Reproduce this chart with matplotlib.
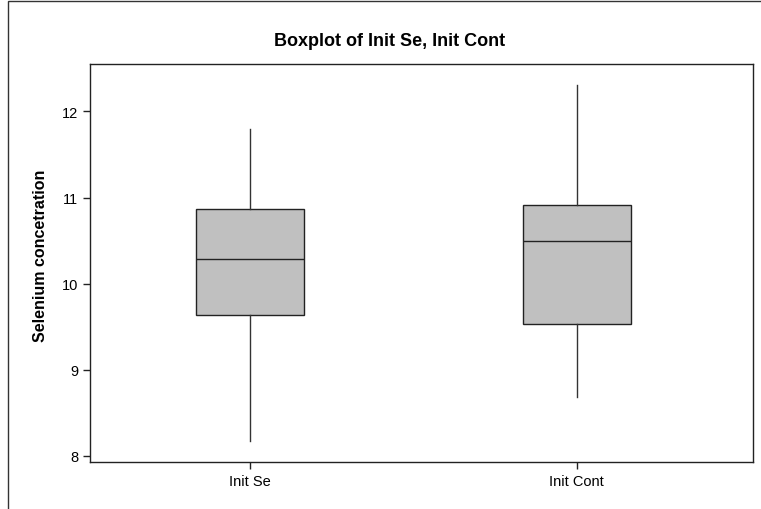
import matplotlib.pyplot as plt
import matplotlib.patches as patches

# DATA

groups = ["Init Se", "Init Cont"]
whisker_low = [8.17, 8.69]
q1 = [9.64, 9.53]
median = [10.29, 10.49]
q3 = [10.87, 10.91]
whisker_high = [11.80, 12.31]

plt.rcParams['font.family'] = ['Liberation Sans', 'DejaVu Sans']

fig = plt.figure(figsize=(7.61, 5.10), dpi=100)
ax = fig.add_axes([90 / 761, 47 / 510, 663 / 761, 398 / 510])

# outer frame of the graph window
frame = patches.Rectangle((8 / 761, -0.2), 1.2, 1.2 - 2 / 510,
                          transform=fig.transFigure, fill=False,
                          edgecolor='#333333', linewidth=1.0, clip_on=False)
fig.patches.append(frame)

stats = []
for i, name in enumerate(groups):
    stats.append({
        'label': name,
        'whislo': whisker_low[i],
        'q1': q1[i],
        'med': median[i],
        'q3': q3[i],
        'whishi': whisker_high[i],
        'fliers': [],
    })

ax.bxp(stats, positions=[1, 2], widths=0.33, patch_artist=True,
       showcaps=False, showfliers=False,
       boxprops=dict(facecolor='#c0c0c0', edgecolor='#222222', linewidth=1.0),
       medianprops=dict(color='#222222', linewidth=1.0),
       whiskerprops=dict(color='#333333', linewidth=1.0))

ax.set_xlim(0.51, 2.54)
ax.set_ylim(7.93, 12.55)
ax.set_yticks([8, 9, 10, 11, 12])
ax.set_xticks([1, 2])
ax.set_xticklabels(groups)

for s in ax.spines.values():
    s.set_color('#222222')
    s.set_linewidth(1.0)
ax.tick_params(direction='out', length=5, width=1, colors='#222222',
               labelsize=10.5, labelcolor='black')

ax.set_ylabel("Selenium concetration", fontsize=11.5, fontweight='bold')
ax.yaxis.set_label_coords(-0.063, 0.52)
fig.text(390 / 761, 1 - 41 / 510, "Boxplot of Init Se, Init Cont",
         ha='center', va='center', fontsize=13, fontweight='bold')

plt.savefig("out.png", dpi=100)
